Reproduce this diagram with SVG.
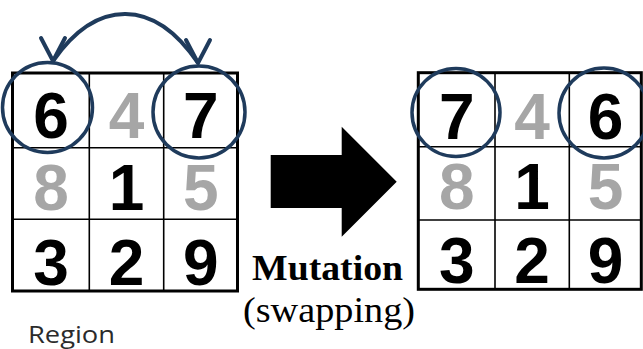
<svg xmlns="http://www.w3.org/2000/svg" width="643" height="349" viewBox="0 0 643 349">
  <style>
    .outer { fill: #fff; stroke: #000; stroke-width: 3; }
    .inner { stroke: #000; stroke-width: 1.6; }
    .d { font-family: "Liberation Sans", Arial, sans-serif; font-weight: bold; font-size: 64px; text-anchor: middle; fill: #000; }
    .g { fill: #a6a6a6; }
    .ring { fill: none; stroke: #1f3b5c; stroke-width: 3.5; }
    .swap { fill: none; stroke: #1f3b5c; stroke-width: 4; }
    .serif { font-family: "Liberation Serif", "Times New Roman", serif; fill: #000; }
    .region { font-family: "Open Sans", "Noto Sans", sans-serif; font-size: 24px; fill: #2b2b2b; }
  </style>
  <defs>
    <!-- open V head, always pointing straight down -->
    <marker id="vhead" viewBox="-28 -16 32 32" refX="0" refY="0" markerWidth="32" markerHeight="32" markerUnits="userSpaceOnUse" orient="90">
      <path d="M-23,-12 L0,0 L-23,12" fill="none" stroke="#1f3b5c" stroke-width="4" stroke-linecap="round" stroke-linejoin="round"/>
    </marker>
  </defs>

  <rect width="643" height="349" fill="#fff"/>

  <!-- grid before the swap -->
  <g id="grid-before">
    <rect class="outer" x="12.5" y="73" width="225" height="218"/>
    <line class="inner" x1="89.3" y1="73" x2="89.3" y2="291"/>
    <line class="inner" x1="163.7" y1="73" x2="163.7" y2="291"/>
    <line class="inner" x1="12.5" y1="147.7" x2="237.5" y2="147.7"/>
    <line class="inner" x1="12.5" y1="219.3" x2="237.5" y2="219.3"/>
    <text class="d" x="51" y="138">6</text>
    <text class="d g" x="126.5" y="138">4</text>
    <text class="d" x="200.7" y="138">7</text>
    <text class="d g" x="51" y="210">8</text>
    <text class="d" x="126.5" y="210">1</text>
    <text class="d g" x="200.7" y="210">5</text>
    <text class="d" x="51" y="285">3</text>
    <text class="d" x="126.5" y="285">2</text>
    <text class="d" x="200.7" y="285">9</text>
    <circle class="ring" cx="47.5" cy="107.5" r="45"/>
    <circle class="ring" cx="199" cy="112" r="46"/>
  </g>

  <!-- grid after the swap -->
  <g id="grid-after">
    <rect class="outer" x="418.3" y="72.7" width="223" height="216.6"/>
    <line class="inner" x1="495" y1="72.7" x2="495" y2="289.3"/>
    <line class="inner" x1="569.3" y1="72.7" x2="569.3" y2="289.3"/>
    <line class="inner" x1="418.3" y1="146.7" x2="641.3" y2="146.7"/>
    <line class="inner" x1="418.3" y1="220" x2="641.3" y2="220"/>
    <text class="d" x="456.7" y="139">7</text>
    <text class="d g" x="532" y="139">4</text>
    <text class="d" x="605.5" y="139">6</text>
    <text class="d g" x="456.7" y="209">8</text>
    <text class="d" x="532" y="209">1</text>
    <text class="d g" x="605.5" y="209">5</text>
    <text class="d" x="456.7" y="283">3</text>
    <text class="d" x="532" y="283">2</text>
    <text class="d" x="605.5" y="283">9</text>
    <circle class="ring" cx="456" cy="112.5" r="44"/>
    <circle class="ring" cx="604" cy="113" r="45"/>
  </g>

  <!-- block arrow with its caption -->
  <g id="mutation-arrow">
    <polygon points="270.7,155 341.7,155 341.7,126.7 396.7,181.7 341.7,236.7 341.7,208 270.7,208" fill="#000"/>
    <text class="serif" x="252" y="280" font-size="35" font-weight="bold" textLength="151" lengthAdjust="spacingAndGlyphs">Mutation</text>
    <text class="serif" x="243" y="322" font-size="36" textLength="172" lengthAdjust="spacingAndGlyphs">(swapping)</text>
  </g>

  <g id="region-label">
    <text class="region" x="28" y="343" textLength="87" lengthAdjust="spacingAndGlyphs">Region</text>
  </g>

  <!-- swap connector between the two circled cells -->
  <g id="connectors">
    <path class="swap" d="M53,61 C97,-2 154,-2 198,63" marker-start="url(#vhead)" marker-end="url(#vhead)"/>
  </g>
</svg>
